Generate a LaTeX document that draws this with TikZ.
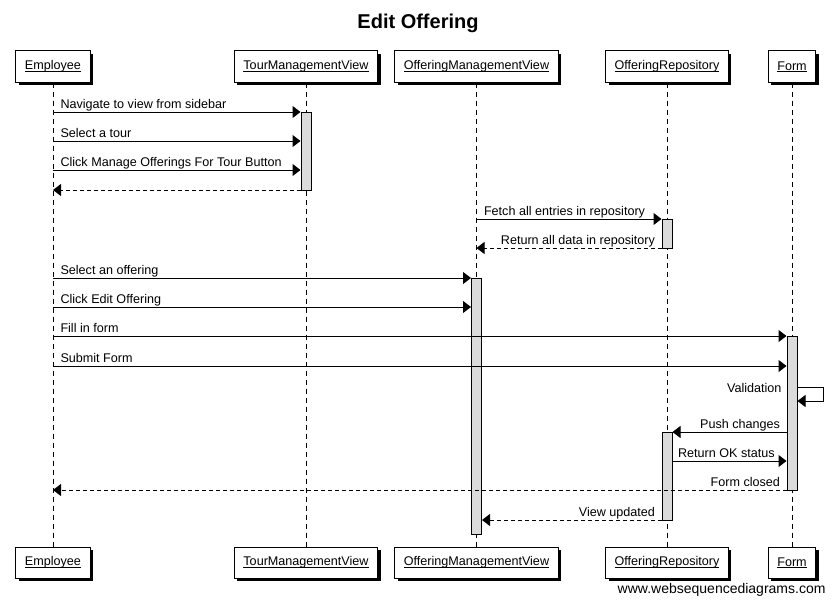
\documentclass[tikz,border=0pt]{standalone}
\usepackage{fontspec}
\setmainfont{Liberation Sans}
\usetikzlibrary{arrows.meta,shadows}
\newcommand{\ulbox}[1]{\setbox0\hbox{#1}\rlap{\rule[-1.6pt]{\wd0}{0.7pt}}\box0}
\begin{document}
\begin{tikzpicture}[x=1pt, y=-1pt, line width=1pt, line join=miter, font=\fontsize{12.6}{15}\selectfont, >={Triangle[length=8pt,width=12pt]},
	actor/.style={draw, fill=white, minimum height=31pt, inner xsep=9pt, drop shadow={shadow xshift=3pt, shadow yshift=-3pt, fill=black, opacity=1}},
	act/.style={draw, fill=black!14, minimum width=10pt, inner sep=0pt},
	life/.style={line width=0.8pt, dash pattern=on 5pt off 4pt},
	msg/.style={->},
	reply/.style={->, dash pattern=on 4pt off 3pt},
	lblr/.style={anchor=base west, inner sep=0pt, xshift=7pt, yshift=4pt},
	lbll/.style={anchor=base east, inner sep=0pt, xshift=-6pt, yshift=4pt}]
	\useasboundingbox (0,0) rectangle (834,602);
	\node[anchor=base, font=\fontsize{20}{24}\selectfont\bfseries] (title) at (418,29) {Edit Offering};
	% participants
	\node[actor] (emp) at (53,66.5) {\ulbox{Employee}};
	\node[actor] (tmv) at (306,66.5) {\ulbox{TourManagementView}};
	\node[actor] (omv) at (476.5,66.5) {\ulbox{OfferingManagementView}};
	\node[actor] (orep) at (667,66.5) {\ulbox{OfferingRepository}};
	\node[actor] (form) at (792,66.5) {\ulbox{Form}};
	\node[actor] (emp2) at (53,562.5) {\ulbox{Employee}};
	\node[actor] (tmv2) at (306,562.5) {\ulbox{TourManagementView}};
	\node[actor] (omv2) at (476.5,562.5) {\ulbox{OfferingManagementView}};
	\node[actor] (orep2) at (667,562.5) {\ulbox{OfferingRepository}};
	\node[actor] (form2) at (792,562.5) {\ulbox{Form}};
	\foreach \p in {emp,tmv,omv,orep,form}
		\draw[life] (\p.south) -- (\p2.north);
	% activations
	\node[act, minimum height=78pt] (tmvact) at (306,151) {};
	\node[act, minimum height=29pt] (oract) at (667,233.5) {};
	\node[act, minimum height=256pt] (omvact) at (476.5,406) {};
	\node[act, minimum height=154pt] (formact) at (792,413) {};
	\node[act, minimum height=88pt] (oract2) at (667,476) {};
	% messages
	\draw[msg] (emp |- 0,112) node[lblr]{Navigate to view from sidebar} -- (tmvact.west |- 0,112);
	\draw[msg] (emp |- 0,141) node[lblr]{Select a tour} -- (tmvact.west |- 0,141);
	\draw[msg] (emp |- 0,170) node[lblr]{Click Manage Offerings For Tour Button} -- (tmvact.west |- 0,170);
	\draw[reply] (tmvact.west |- 0,190) -- (emp |- 0,190);
	\draw[msg] (omv |- 0,219) node[lblr]{Fetch all entries in repository} -- (oract.west |- 0,219);
	\draw[reply] (oract.west |- 0,248) node[lbll]{Return all data in repository} -- (omv |- 0,248);
	\draw[msg] (emp |- 0,278) node[lblr]{Select an offering} -- (omvact.west |- 0,278);
	\draw[msg] (emp |- 0,307) node[lblr]{Click Edit Offering} -- (omvact.west |- 0,307);
	\draw[msg] (emp |- 0,336) node[lblr]{Fill in form} -- (formact.west |- 0,336);
	\draw[msg] (emp |- 0,366) node[lblr]{Submit Form} -- (formact.west |- 0,366);
	\draw[msg] (formact.east |- 0,387) -- ++(26,0) |- (formact.east |- 0,401);
	\node[anchor=base east, inner sep=0pt] (valid) at (782,392) {Validation};
	\draw[msg] (formact.west |- 0,432) node[lbll]{Push changes} -- (oract2.east |- 0,432);
	\draw[msg] (oract2.east |- 0,461) node[lblr, xshift=-2pt]{Return OK status} -- (formact.west |- 0,461);
	\draw[reply] (formact.west |- 0,490) node[lbll]{Form closed} -- (emp |- 0,490);
	\draw[reply] (oract2.west |- 0,520) node[lbll]{View updated} -- (omvact.east |- 0,520);
	\node[anchor=base east, inner sep=0pt, font=\fontsize{14}{16}\selectfont] (web) at (826,593) {www.websequencediagrams.com};
\end{tikzpicture}
\end{document}
